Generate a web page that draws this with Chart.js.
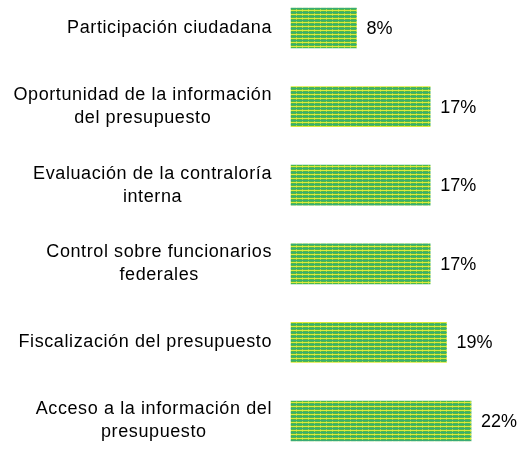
<!DOCTYPE html>
<html>
<head>
<meta charset="utf-8">
<script src="https://cdn.jsdelivr.net/npm/chart.js@4"></script>
<style>
  html, body { margin: 0; padding: 0; background: #fff; }
  #wrap { width: 520px; height: 450px; }
</style>
</head>
<body>
<div id="wrap"><canvas id="grafico"></canvas></div>
<script>
// categorias (cada linea del texto por separado)
const categorias = [
  ["Participación ciudadana"],
  ["Oportunidad de la información", "del presupuesto"],
  ["Evaluación de la contraloría", "interna"],
  ["Control sobre funcionarios", "federales"],
  ["Fiscalización del presupuesto"],
  ["Acceso a la información del", "presupuesto"],
];
const porcentajes = [8, 17, 17, 17, 19, 22];
const etiquetas = porcentajes.map((v) => v + "%");

// relleno rayado verde / amarillo de las barras
function hacerPatron() {
  const c = document.createElement("canvas");
  c.width = 6;
  c.height = 4;
  const g = c.getContext("2d");
  g.fillStyle = "#4fba47";
  g.fillRect(0, 0, 6, 4);
  g.fillStyle = "#3aab78";
  g.fillRect(0, 0, 6, 1);
  g.fillStyle = "#dfe83c";
  g.fillRect(0, 2, 6, 1);
  g.fillStyle = "#a6d84a";
  g.fillRect(2, 1, 1, 1);
  g.fillRect(2, 3, 1, 1);
  return g.createPattern(c, "repeat");
}

const FUENTE = "'Liberation Sans', Arial, sans-serif";

const textos = {
  id: "textos",
  afterDatasetsDraw(chart) {
    const ctx = chart.ctx;
    const y = chart.scales.y;
    const meta = chart.getDatasetMeta(0);
    ctx.save();
    ctx.fillStyle = "#000";
    ctx.textBaseline = "middle";

    // etiquetas de categoria: bloque alineado a la derecha, lineas centradas
    const lh = 23;
    const derecha = chart.chartArea.left - 19;
    ctx.font = "18px " + FUENTE;
    ctx.letterSpacing = "0.6px";
    ctx.textAlign = "center";
    categorias.forEach((lineas, i) => {
      const py = y.getPixelForTick(i);
      const ancho = Math.max(...lineas.map((t) => ctx.measureText(t).width));
      const cx = derecha - ancho / 2;
      lineas.forEach((t, j) => {
        const ly = py + (j - (lineas.length - 1) / 2) * lh;
        ctx.fillText(t, cx, ly);
      });
    });

    // valores al final de cada barra
    ctx.letterSpacing = "0px";
    ctx.font = "18px " + FUENTE;
    ctx.textAlign = "left";
    meta.data.forEach((bar, i) => {
      ctx.fillText(etiquetas[i], bar.x + 10, bar.y + 1);
    });
    ctx.restore();
  },
};

const ctx = document.getElementById("grafico");

let grafico = new Chart(ctx, {
  type: "bar",
  data: {
    labels: categorias,
    datasets: [
      {
        data: porcentajes,
        backgroundColor: hacerPatron(),
        borderWidth: 0,
        barThickness: 40,
        clip: false,
      },
    ],
  },
  options: {
    indexAxis: "y",
    responsive: true,
    maintainAspectRatio: false,
    animation: false,
    layout: {
      padding: { top: 28, bottom: 29, left: 0, right: 8 },
    },
    plugins: {
      legend: { display: false },
      tooltip: { enabled: false },
    },
    scales: {
      x: {
        display: false,
        min: 0,
        max: 27,
      },
      y: {
        offset: false,
        grid: { display: false },
        border: { display: false },
        ticks: { display: false },
        afterFit: (scale) => {
          scale.width = 291;
        },
      },
    },
  },
  plugins: [textos],
});
</script>
</body>
</html>
